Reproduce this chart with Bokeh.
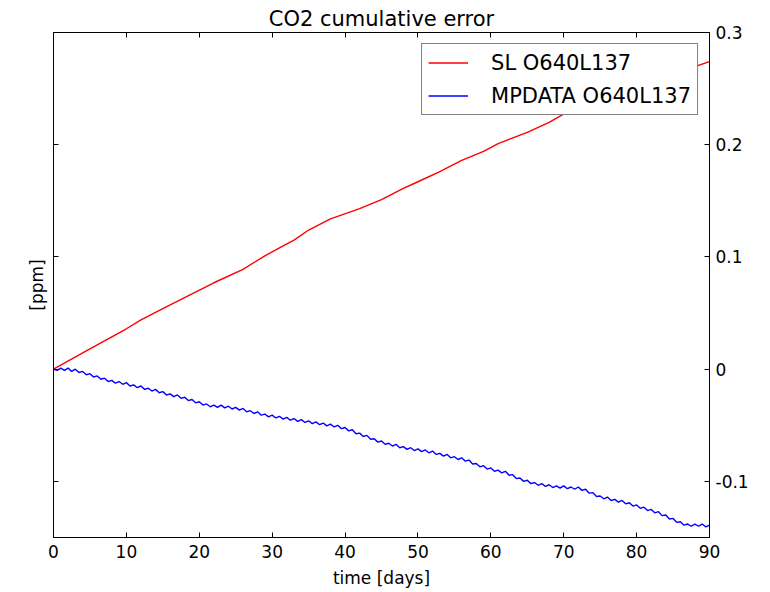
from bokeh.plotting import figure
from bokeh.models import Range1d, LinearAxis, FixedTicker, Legend, LegendItem, NumeralTickFormatter
from bokeh.embed import file_html
from bokeh.resources import INLINE

# ---- data ----
title_text = "CO2 cumulative error"
x_label = "time [days]"
y_label = "[ppm]"
x_ticks = [0, 10, 20, 30, 40, 50, 60, 70, 80, 90]
y_ticks = [-0.1, 0, 0.1, 0.2, 0.3]

sl_name = "SL O640L137"
sl_days = [0, 5, 10, 12, 15, 19, 22, 26, 29, 31, 33, 35, 38, 42, 45, 48, 50, 53, 56, 59, 61,
           65, 68, 71, 75, 80, 85, 90]
sl_vals = [0.000, 0.018, 0.036, 0.044, 0.054, 0.067, 0.077, 0.089, 0.101, 0.108, 0.115, 0.124,
           0.134, 0.143, 0.151, 0.161, 0.167, 0.176, 0.186, 0.194, 0.201, 0.211, 0.220, 0.231,
           0.240, 0.252, 0.263, 0.274]

mp_name = "MPDATA O640L137"
# values at whole days (wiggle crests)
mp_whole = [0.000, 0.001, 0.001, 0.000, -0.002, -0.004, -0.006, -0.008, -0.010, -0.011,
            -0.012, -0.014, -0.015, -0.017, -0.018, -0.020, -0.022, -0.023, -0.025, -0.027,
            -0.029, -0.031, -0.032, -0.032, -0.033, -0.034, -0.035, -0.037, -0.038, -0.040,
            -0.041, -0.042, -0.043, -0.044, -0.045, -0.046, -0.047, -0.048, -0.049, -0.050,
            -0.052, -0.054, -0.057, -0.059, -0.062, -0.064, -0.066, -0.067, -0.069, -0.070,
            -0.071, -0.072, -0.073, -0.075, -0.076, -0.078, -0.079, -0.081, -0.084, -0.086,
            -0.088, -0.090, -0.091, -0.094, -0.097, -0.099, -0.101, -0.102, -0.103, -0.104,
            -0.104, -0.105, -0.105, -0.107, -0.110, -0.113, -0.114, -0.116, -0.117, -0.119,
            -0.121, -0.123, -0.125, -0.127, -0.130, -0.133, -0.136, -0.138, -0.138, -0.138,
            -0.139]
# values at half days (wiggle troughs)
mp_half = [-0.001, -0.001, -0.002, -0.003, -0.005, -0.007, -0.009, -0.011, -0.0125, -0.0135,
           -0.015, -0.0165, -0.018, -0.0195, -0.021, -0.023, -0.0245, -0.026, -0.028, -0.030,
           -0.032, -0.0335, -0.034, -0.0345, -0.0355, -0.0365, -0.038, -0.0395, -0.041, -0.0425,
           -0.0435, -0.0445, -0.0455, -0.0465, -0.0475, -0.0485, -0.0495, -0.0505, -0.0515, -0.053,
           -0.055, -0.0575, -0.060, -0.0625, -0.065, -0.067, -0.0685, -0.070, -0.0715, -0.0725,
           -0.0735, -0.0745, -0.076, -0.0775, -0.079, -0.0805, -0.082, -0.0845, -0.087, -0.089,
           -0.091, -0.0925, -0.0945, -0.0975, -0.100, -0.102, -0.1035, -0.1045, -0.1055, -0.106,
           -0.1065, -0.107, -0.108, -0.1105, -0.1135, -0.1155, -0.117, -0.1185, -0.120, -0.122,
           -0.124, -0.126, -0.128, -0.1305, -0.1335, -0.1365, -0.139, -0.140, -0.140, -0.1405]

mp_days = []
mp_vals = []
for i, v in enumerate(mp_whole):
    mp_days.append(float(i))
    mp_vals.append(v)
    if i < len(mp_half):
        mp_days.append(i + 0.5)
        mp_vals.append(mp_half[i])

FONT = "DejaVu Sans"

p = figure(width=770, height=592, x_range=Range1d(0, 90), y_range=Range1d(-0.15, 0.3),
           output_backend="svg", toolbar_location=None,
           x_axis_location=None, y_axis_location=None,
           min_border_left=53, min_border_right=61, min_border_top=32, min_border_bottom=55)
p.grid.visible = False
p.outline_line_color = "black"
p.outline_line_width = 1
p.background_fill_color = "white"
p.border_fill_color = "white"

p.title.text = title_text
p.title.align = "center"
p.title.text_font = FONT
p.title.text_font_size = "21px"
p.title.text_font_style = "normal"
p.title.text_color = "black"
p.title.standoff = 4


def style_axis(ax, show_labels):
    ax.axis_line_color = "black"
    ax.axis_line_width = 1
    ax.major_tick_in = 5
    ax.major_tick_out = 0
    ax.major_tick_line_color = "black"
    ax.minor_tick_line_color = None
    ax.major_label_text_font = FONT
    ax.major_label_text_font_size = "17px"
    ax.major_label_text_color = "black"
    ax.axis_label_text_font = FONT
    ax.axis_label_text_font_size = "17px"
    ax.axis_label_text_font_style = "normal"
    ax.axis_label_text_color = "black"
    if not show_labels:
        ax.major_label_overrides = {t: "" for t in ax.ticker.ticks}
        ax.major_label_standoff = 0


xb = LinearAxis(ticker=FixedTicker(ticks=x_ticks), axis_label=x_label)
style_axis(xb, True)
xb.major_label_standoff = 7
xb.axis_label_standoff = 7
p.add_layout(xb, "below")

xt = LinearAxis(ticker=FixedTicker(ticks=x_ticks))
style_axis(xt, False)
p.add_layout(xt, "above")

yl = LinearAxis(ticker=FixedTicker(ticks=y_ticks), axis_label=y_label)
style_axis(yl, False)
yl.axis_label_standoff = 7
p.add_layout(yl, "left")

yr = LinearAxis(ticker=FixedTicker(ticks=y_ticks), formatter=NumeralTickFormatter(format="0.[0]"))
style_axis(yr, True)
yr.major_label_standoff = 6
p.add_layout(yr, "right")

r1 = p.line(sl_days, sl_vals, line_color="#ff0000", line_width=1.4)
r2 = p.line(mp_days, mp_vals, line_color="#0000ff", line_width=1.4)

legend = Legend(items=[LegendItem(label=sl_name, renderers=[r1]),
                       LegendItem(label=mp_name, renderers=[r2])],
                location="top_right")
legend.margin = 11
legend.padding = 6
legend.spacing = 8
legend.glyph_width = 40
legend.glyph_height = 25
legend.label_height = 25
legend.label_standoff = 23
legend.label_text_font = FONT
legend.label_text_font_size = "21px"
legend.label_text_color = "black"
legend.border_line_color = "black"
legend.border_line_width = 1
legend.background_fill_color = "white"
legend.background_fill_alpha = 1.0
p.add_layout(legend, "center")

open("out.html", "w").write(file_html(p, INLINE))
